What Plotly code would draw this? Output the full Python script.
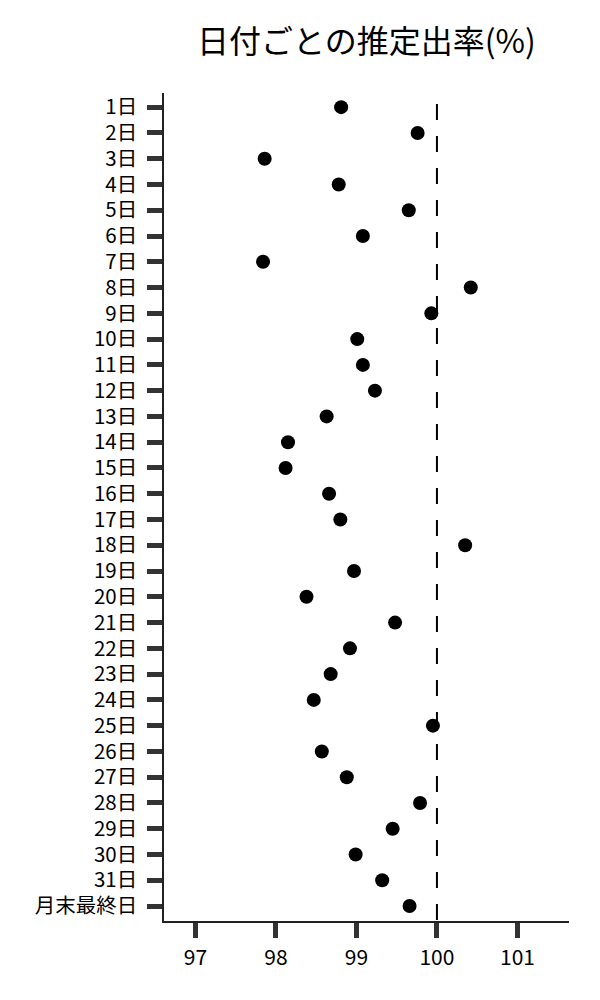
import plotly.graph_objects as go

categories = [f"{i}日" for i in range(1, 32)] + ["月末最終日"]
values = [98.81, 99.76, 97.86, 98.78, 99.65, 99.08, 97.84, 100.42, 99.93,
          99.01, 99.08, 99.23, 98.63, 98.15, 98.12, 98.66, 98.80, 100.35,
          98.97, 98.38, 99.48, 98.92, 98.68, 98.47, 99.95, 98.57, 98.88,
          99.79, 99.45, 98.99, 99.32, 99.66]
x_ticks = [97, 98, 99, 100, 101]
ref_value = 100
title_text = "日付ごとの推定出率(%)"

font_family = "Noto Sans CJK JP"

fig = go.Figure()
fig.add_trace(go.Scatter(
    x=values, y=categories, mode="markers",
    marker=dict(color="black", size=14),
    showlegend=False,
))

fig.add_shape(type="line", xref="x", yref="y",
              x0=ref_value, x1=ref_value, y0=-0.12, y1=31.58,
              line=dict(color="black", width=2, dash="16px,16px"))

fig.update_layout(
    width=600, height=1000,
    margin=dict(l=156, r=39, t=85, b=87),
    plot_bgcolor="white", paper_bgcolor="white",
    font=dict(family=font_family, color="black", size=20),
    title=dict(text=title_text, x=0.5, xref="paper", xanchor="center",
               y=0.966, yanchor="middle",
               font=dict(size=32, family=font_family, color="black")),
)

fig.update_xaxes(
    range=[96.61, 101.64], tickvals=x_ticks, ticktext=[str(v) for v in x_ticks],
    showgrid=False, zeroline=False,
    showline=True, linecolor="#222", linewidth=1.5,
    ticks="outside", ticklen=15, tickwidth=5, tickcolor="#333",
    ticklabelstandoff=2,
    tickfont=dict(size=21, color="black"),
)
fig.update_yaxes(
    type="category", categoryorder="array", categoryarray=categories,
    range=[31.58, -0.55],
    showgrid=False, zeroline=False,
    showline=True, linecolor="#222", linewidth=1.5,
    ticks="outside", ticklen=15, tickwidth=5, tickcolor="#333",
    ticklabelstandoff=6,
    tickfont=dict(size=20.5, color="black"),
)

fig.write_html("out.html")
